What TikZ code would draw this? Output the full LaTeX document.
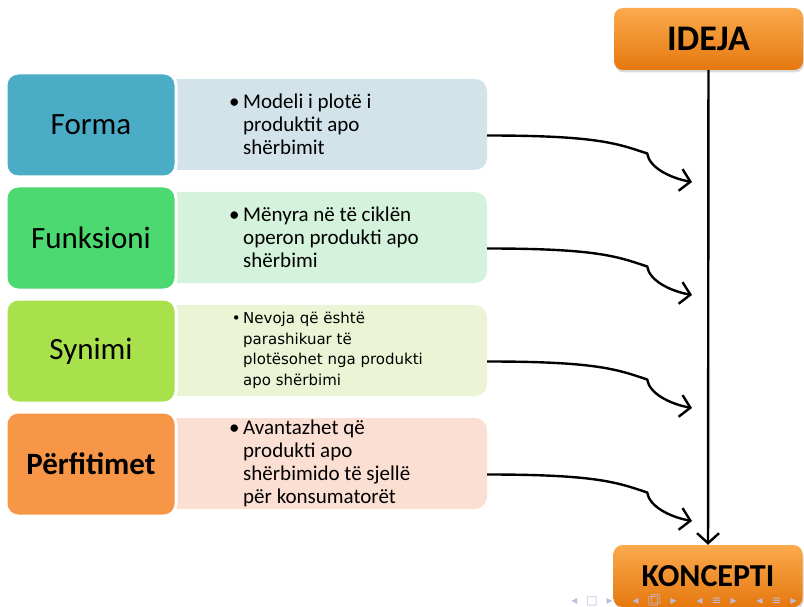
\documentclass[tikz,border=0pt]{standalone}
\usepackage{fontspec}
\setmainfont{Carlito}
\newfontfamily\smallsans{DejaVu Sans}
\usetikzlibrary{arrows.meta,positioning,calc,shadows}

\definecolor{formaC}{HTML}{4BACC6}
\definecolor{formaL}{HTML}{D3E3EA}
\definecolor{funkC}{HTML}{4CD96F}
\definecolor{funkL}{HTML}{D4F2DC}
\definecolor{synC}{HTML}{A9E14D}
\definecolor{synL}{HTML}{EBF5D5}
\definecolor{perfC}{HTML}{F79646}
\definecolor{perfL}{HTML}{FCDFD3}
\definecolor{keyTop}{HTML}{FBAA4E}
\definecolor{keyMid}{HTML}{F7931E}
\definecolor{keyBot}{HTML}{E5780E}
\definecolor{navC}{HTML}{BCBEDC}

\newcommand{\bigtext}{\fontsize{21}{22.8}\selectfont}
\newcommand{\smalltext}{\smallsans\fontsize{15}{20.5}\selectfont}
\newcommand{\navsep}{\hspace{9pt}}
\newcommand{\navgap}{\hspace{20pt}}

\begin{document}
\begin{tikzpicture}[x=1pt,y=-1pt,
  catbox/.style={draw=white, line width=3pt, rounded corners=12pt, inner sep=0pt,
    minimum width=170pt, minimum height=104pt, font=\fontsize{31}{36}\selectfont},
  infobox/.style={rounded corners=12pt, inner sep=0pt, minimum width=322pt, minimum height=91pt},
  bullets/.style={anchor=west, align=left, inner sep=0pt},
  keybox/.style={rounded corners=9pt, inner sep=0pt, minimum width=189pt, minimum height=62pt,
    top color=keyTop, middle color=keyMid, bottom color=keyBot,
    drop shadow={shadow xshift=1pt, shadow yshift=-2.5pt, opacity=0.3},
    font=\bfseries\fontsize{36}{40}\selectfont},
  flow/.style={line width=2.4pt, -{Straight Barb[length=10pt,width=22pt]}}]
\useasboundingbox (0,0) rectangle (804,607);

% rows: colour, light colour, title, text font, text
\foreach \c/\l/\t/\f/\txt [count=\i] in {
  formaC/formaL/{Forma}/\bigtext/{\llap{\textbullet\,}Modeli i plotë i\\produktit apo\\shërbimit},
  funkC/funkL/{Funksioni}/\bigtext/{\llap{\textbullet\,}Mënyra në të ciklën\\operon produkti apo\\shërbimi},
  synC/synL/{Synimi}/\smalltext/{\llap{\textbullet\,}Nevoja që është\\parashikuar të\\plotësohet nga produkti\\apo shërbimi},
  perfC/perfL/{\textbf{Përfitimet}}/\bigtext/{\llap{\textbullet\,}Avantazhet që\\produkti apo\\shërbimido të sjellë\\për konsumatorët}}
{
  \node[infobox, fill=\l] (R\i) at (326,{124.5+113*(\i-1)}) {};
  \node[catbox, fill=\c] (L\i) at (91,{125+113*(\i-1)}) {\t};
  \node[bullets, font=\f] (T\i) at (243,{124.5+113*(\i-1)}) {\txt};
  \coordinate (tip\i) at (692,{182+113*(\i-1)});
}

\node[keybox] (idea) at (708.5,39) {IDEJA};
\node[keybox, font=\bfseries\fontsize{32}{36}\selectfont] (concept) at (708,576) {KONCEPTI};

\foreach \i in {1,...,4}
  \draw[flow] ([yshift=-11pt]R\i.east) .. controls +(110,0) and +(-30,-10) .. ++(160,18)
    .. controls +(2,14) and +(-22,-4) .. (tip\i);
\draw[flow] (idea) -- (concept);

% navigation symbols
\node[text=navC, inner sep=0pt, font=\smallsans\fontsize{12}{12}\selectfont] (nav) at (684,600)
  {◂\navsep□\navsep▸\navgap◂\navsep\rlap{□}\raisebox{2pt}{\hspace{2.5pt}□}\navsep▸\navgap◂\navsep≡\navsep▸\navgap◂\navsep≡\navsep▸};
\end{tikzpicture}
\end{document}
